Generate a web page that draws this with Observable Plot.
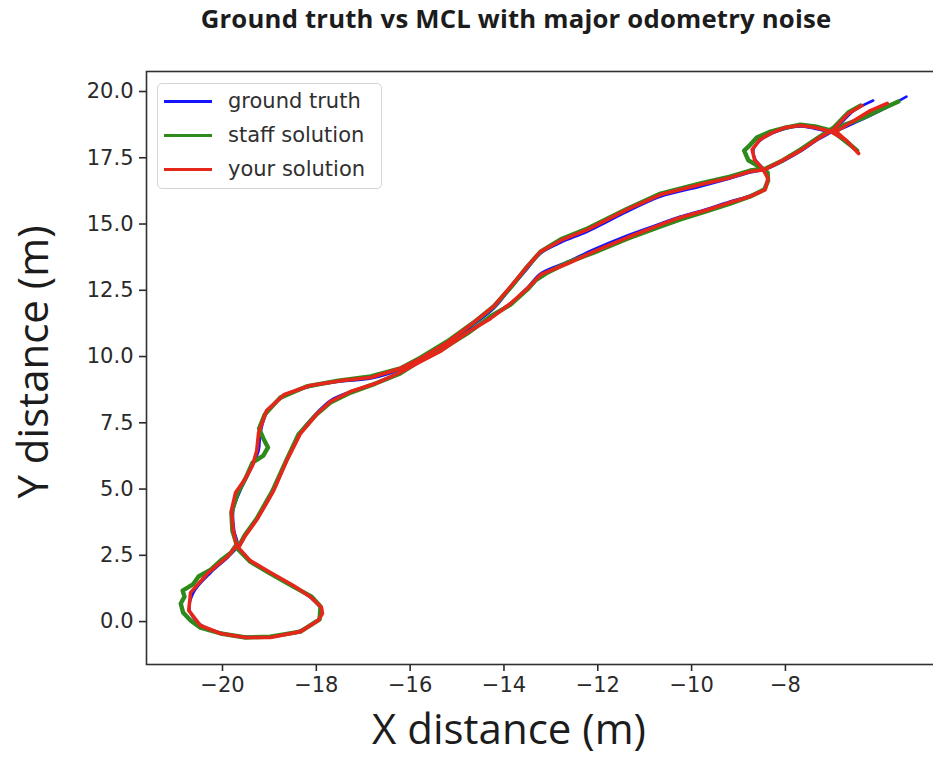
<!DOCTYPE html>
<html><head><meta charset="utf-8">
<script src="https://cdn.jsdelivr.net/npm/d3@7"></script>
<script src="https://cdn.jsdelivr.net/npm/@observablehq/plot@0.6"></script>
<style>
html,body{margin:0;padding:0;background:#fff;overflow:hidden;}
#wrap{position:relative;width:933px;height:759px;overflow:hidden;}
#chart{position:absolute;left:0;top:0;width:960px;}
#chart svg{max-width:none !important;}
.t{position:absolute;white-space:nowrap;color:#1c1c1c;line-height:1;}
#title{left:516px;top:1px;transform:translateX(-50%);font:700 25.7px "Open Sans",sans-serif;letter-spacing:0.2px;}
#xlabel{left:509px;top:701px;transform:translateX(-50%);font:400 42px "Open Sans",sans-serif;line-height:1.3;}
#ylabel{left:32px;top:362px;transform:translate(-50%,-50%) rotate(-90deg);font:400 42px "Open Sans",sans-serif;line-height:1.3;}
#legend{position:absolute;left:157px;top:83px;width:225px;height:106px;box-sizing:border-box;border:1px solid #d6d6d6;border-radius:5px;background:rgba(255,255,255,0.85);font:400 21px "DejaVu Sans",sans-serif;color:#303030;}
.row{position:absolute;left:0;height:34px;display:flex;align-items:center;}
.sw{width:48px;height:3px;margin-left:6px;margin-right:16px;}
</style>
</head><body>
<div id="wrap">
  <div id="chart"></div>
  <div id="title" class="t">Ground truth vs MCL with major odometry noise</div>
  <div id="xlabel" class="t">X distance (m)</div>
  <div id="ylabel" class="t">Y distance (m)</div>
  <div id="legend"></div>
</div>
<script>
const seriesNames = ["ground truth", "staff solution", "your solution"];
const seriesColors = ["#1414ff", "#2f8a1c", "#e5261a"];
const xTicks = [-20, -18, -16, -14, -12, -10, -8];
const yTicks = [0, 2.5, 5, 7.5, 10, 12.5, 15, 17.5, 20];

// ground truth trajectory (x, y in metres)
const truthPath = [
[-5.42,19.81],[-5.97,19.28],[-6.51,18.83],[-7.00,18.49],[-7.37,18.60],[-7.68,18.68],[-8.00,18.60],[-8.28,18.42],
[-8.54,18.15],[-8.68,17.81],[-8.64,17.43],[-8.47,17.09],[-8.37,16.72],[-8.45,16.34],[-8.75,16.08],[-9.18,15.85],
[-9.71,15.55],[-10.24,15.28],[-10.66,15.02],[-11.37,14.57],[-12.09,14.04],[-12.64,13.58],[-13.22,13.13],[-13.50,12.60],
[-13.86,12.00],[-14.29,11.47],[-14.78,10.94],[-15.36,10.23],[-15.78,9.85],[-16.21,9.40],[-16.74,8.98],[-17.27,8.68],
[-17.70,8.34],[-17.98,7.89],[-18.34,7.13],[-18.62,6.15],[-18.91,4.94],[-19.25,3.92],[-19.51,3.25],[-19.66,2.79],
[-19.41,2.30],[-18.98,1.85],[-18.49,1.32],[-18.13,0.91],[-17.91,0.49],[-17.96,0.08],[-18.34,-0.34],[-18.98,-0.57],
[-19.51,-0.57],[-20.04,-0.42],[-20.47,-0.11],[-20.70,0.42],[-20.62,1.09],[-20.25,1.85],[-19.87,2.45],[-19.68,2.87],
[-19.75,3.43],[-19.77,4.19],[-19.62,4.94],[-19.41,5.70],[-19.23,6.45],[-19.19,7.13],[-19.03,7.96],[-18.65,8.53],
[-18.13,8.87],[-17.48,9.06],[-16.84,9.17],[-16.21,9.51],[-15.78,9.89],[-15.21,10.49],[-14.65,11.21],[-14.22,11.81],
[-13.86,12.57],[-13.50,13.32],[-13.22,13.89],[-12.79,14.30],[-12.22,14.72],[-11.37,15.47],[-10.66,16.04],[-9.81,16.42],
[-9.18,16.72],[-8.75,16.94],[-8.43,17.06],[-8.06,17.36],[-7.68,17.74],[-7.30,18.19],[-6.97,18.53],[-6.56,19.25],
[-6.13,19.66]
];

// staff solution estimate
const staffPath = [
[-5.59,19.62],[-5.97,19.32],[-6.37,18.98],[-6.73,18.75],[-6.96,18.45],[-6.66,18.04],[-6.47,17.77],[-6.75,18.19],
[-7.04,18.53],[-7.37,18.68],[-7.68,18.75],[-8.00,18.64],[-8.32,18.49],[-8.61,18.26],[-8.79,17.92],[-8.88,17.77],
[-8.79,17.40],[-8.56,17.17],[-8.38,16.94],[-8.37,16.64],[-8.45,16.30],[-8.75,16.04],[-9.18,15.77],[-9.71,15.47],
[-10.24,15.17],[-10.66,14.91],[-11.37,14.45],[-12.09,13.92],[-12.64,13.55],[-13.07,13.17],[-13.33,12.87],[-13.50,12.53],
[-13.86,11.96],[-14.29,11.51],[-14.78,10.87],[-15.36,10.23],[-15.78,9.85],[-16.21,9.36],[-16.74,8.98],[-17.27,8.64],
[-17.70,8.26],[-18.00,7.81],[-18.38,7.06],[-18.64,6.08],[-18.94,4.91],[-19.27,3.89],[-19.53,3.25],[-19.68,2.75],
[-19.41,2.26],[-18.98,1.81],[-18.49,1.32],[-18.10,0.94],[-17.91,0.57],[-17.93,0.08],[-18.34,-0.38],[-18.98,-0.57],
[-19.51,-0.60],[-20.04,-0.45],[-20.47,-0.23],[-20.68,0.04],[-20.84,0.34],[-20.89,0.68],[-20.81,0.94],[-20.85,1.17],
[-20.63,1.40],[-20.51,1.70],[-20.25,1.96],[-20.04,2.30],[-19.82,2.60],[-19.70,2.91],[-19.79,3.43],[-19.81,4.11],
[-19.68,4.83],[-19.49,5.47],[-19.36,6.00],[-19.13,6.26],[-19.03,6.57],[-19.13,6.91],[-19.22,7.28],[-19.10,7.81],
[-18.77,8.45],[-18.21,8.87],[-17.53,9.09],[-16.84,9.25],[-16.21,9.55],[-15.78,9.96],[-15.21,10.57],[-14.65,11.28],
[-14.22,11.89],[-13.86,12.60],[-13.50,13.40],[-13.22,13.96],[-12.79,14.42],[-12.22,14.83],[-11.37,15.58],[-10.66,16.15],
[-9.81,16.53],[-9.18,16.79],[-8.75,17.02],[-8.43,17.09],[-8.06,17.40],[-7.68,17.81],[-7.30,18.26],[-6.97,18.64],
[-6.66,19.21],[-6.40,19.47]
];

// your solution estimate
const yourPath = [
[-5.83,19.55],[-6.19,19.28],[-6.57,18.87],[-6.92,18.49],[-6.66,18.08],[-6.44,17.66],[-6.70,18.15],[-7.04,18.49],
[-7.37,18.64],[-7.68,18.72],[-8.00,18.64],[-8.28,18.45],[-8.54,18.19],[-8.71,17.81],[-8.66,17.43],[-8.49,17.09],
[-8.37,16.72],[-8.43,16.30],[-8.75,16.04],[-9.18,15.81],[-9.71,15.51],[-10.24,15.25],[-10.66,14.98],[-11.37,14.49],
[-12.09,13.96],[-12.64,13.51],[-13.22,13.09],[-13.50,12.57],[-13.86,12.00],[-14.29,11.43],[-14.78,10.91],[-15.36,10.19],
[-15.78,9.81],[-16.21,9.40],[-16.74,8.98],[-17.27,8.68],[-17.70,8.30],[-17.98,7.85],[-18.34,7.09],[-18.62,6.11],
[-18.91,4.94],[-19.25,3.89],[-19.51,3.25],[-19.66,2.79],[-19.41,2.30],[-18.98,1.85],[-18.49,1.36],[-18.13,0.94],
[-17.89,0.53],[-17.87,0.30],[-17.96,0.04],[-18.34,-0.38],[-18.98,-0.60],[-19.51,-0.60],[-20.04,-0.45],[-20.47,-0.15],
[-20.72,0.42],[-20.68,1.09],[-20.30,1.85],[-19.89,2.45],[-19.70,2.87],[-19.77,3.43],[-19.81,4.19],[-19.72,4.87],
[-19.51,5.40],[-19.36,5.89],[-19.27,6.45],[-19.23,7.13],[-19.06,7.96],[-18.68,8.57],[-18.13,8.91],[-17.48,9.09],
[-16.84,9.21],[-16.21,9.55],[-15.78,9.92],[-15.21,10.53],[-14.65,11.28],[-14.22,11.89],[-13.86,12.64],[-13.50,13.40],
[-13.22,13.96],[-12.79,14.38],[-12.22,14.79],[-11.37,15.55],[-10.66,16.11],[-9.81,16.49],[-9.18,16.75],[-8.75,16.98],
[-8.43,17.06],[-8.06,17.40],[-7.68,17.77],[-7.30,18.23],[-6.97,18.57],[-6.66,19.17],[-6.37,19.47]
];

const fmtX = d => (d < 0 ? "\u2212" : "") + Math.abs(d);
const fmtY = d => d.toFixed(1);

const chart = Plot.plot({
  width: 960, height: 759,
  marginTop: 71, marginBottom: 95, marginLeft: 146, marginRight: 9,
  style: {fontFamily: "'DejaVu Sans', sans-serif", fontSize: "21px", color: "#2a2a2a", background: "transparent"},
  x: {domain: [-21.62, -4.46]},
  y: {domain: [-1.62, 20.755]},
  marks: [
    Plot.axisX({ticks: xTicks, tickFormat: fmtX, tickSize: 7, tickPadding: 6, strokeWidth: 1.6, label: null}),
    Plot.axisY({ticks: yTicks, tickFormat: fmtY, tickSize: 7, tickPadding: 6, strokeWidth: 1.6, label: null}),
    Plot.line(truthPath, {x: d => d[0], y: d => d[1], stroke: seriesColors[0], strokeWidth: 2.6, curve: "catmull-rom"}),
    Plot.line(staffPath, {x: d => d[0], y: d => d[1], stroke: seriesColors[1], strokeWidth: 4.4, strokeLinejoin: "round", curve: "linear"}),
    Plot.line(yourPath, {x: d => d[0], y: d => d[1], stroke: seriesColors[2], strokeWidth: 3.6, strokeLinejoin: "round", curve: "linear"}),
    Plot.frame({stroke: "#303030", strokeWidth: 1.6})
  ]
});
chart.style.maxWidth = "none";
document.getElementById("chart").appendChild(chart);

const legend = document.getElementById("legend");
seriesNames.forEach((name, i) => {
  const row = document.createElement("div");
  row.className = "row";
  row.style.top = (i * 34) + "px";
  const sw = document.createElement("div");
  sw.className = "sw";
  sw.style.background = seriesColors[i];
  const tx = document.createElement("span");
  tx.textContent = name;
  row.appendChild(sw); row.appendChild(tx);
  legend.appendChild(row);
});
</script>
</body></html>
